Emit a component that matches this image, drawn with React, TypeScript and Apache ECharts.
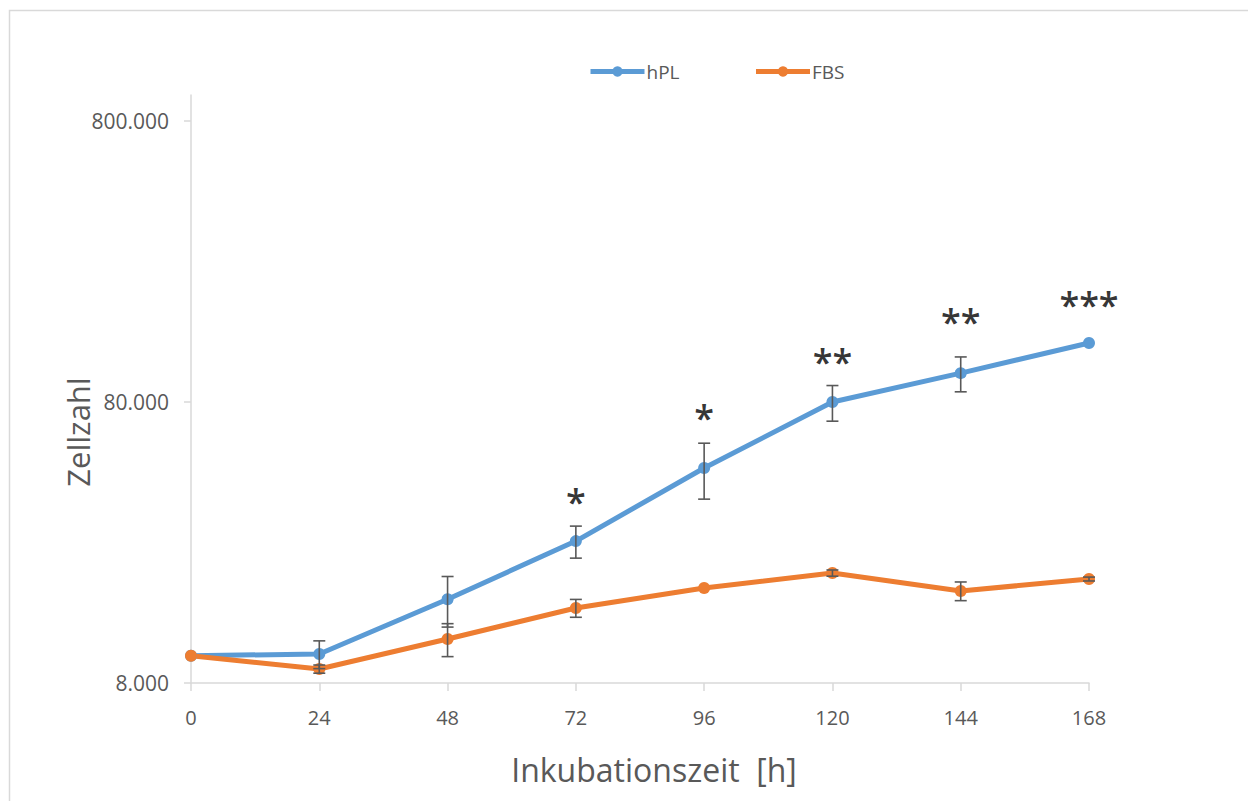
import React, { useEffect, useRef } from "react";
import * as echarts from "echarts";

const hours = [0, 24, 48, 72, 96, 120, 144, 168];
const hplValues = [10000, 10150, 15900, 25600, 46600, 80000, 101400, 129800];
const hplErrors = [0, 1150, 3250, 3340, 10500, 11600, 14400, 0];
const fbsValues = [10000, 8970, 11470, 14790, 17430, 19700, 17010, 18760];
const fbsErrors = [0, 300, 1540, 1080, 0, 500, 1300, 300];
const starHours = [72, 96, 120, 144, 168];
const starLabels = ["*", "*", "**", "**", "***"];
const starValues = [36700, 73100, 114800, 160600, 184500];
const yTickValues = [8000, 80000, 800000];
const yMin = 8000;
const yMax = 991000;

const BLUE = "#5B9BD5";
const ORANGE = "#ED7D31";
const TEXT = "#595959";
const AXIS = "#D9D9D9";
const FONT = "'Open Sans', sans-serif";

function fmtDe(v: number): string {
  const s = String(Math.round(v));
  return s.replace(/\B(?=(\d{3})+(?!\d))/g, ".");
}

function errorSeries(name: string, values: number[], errors: number[]) {
  const data = hours.map((h, i) => [h, values[i], errors[i]]);
  return {
    type: "custom",
    name: name + "-err",
    z: 5,
    silent: true,
    data: data.filter((d) => d[2] > 0),
    renderItem: (params: any, api: any) => {
      const x = api.value(0);
      const v = api.value(1);
      const e = api.value(2);
      const top = api.coord([x, v + e]);
      const bot = api.coord([x, v - e]);
      const hw = 6;
      const style = { stroke: "#595959", lineWidth: 1.6 };
      return {
        type: "group",
        children: [
          { type: "line", shape: { x1: top[0], y1: top[1], x2: bot[0], y2: bot[1] }, style },
          { type: "line", shape: { x1: top[0] - hw, y1: top[1], x2: top[0] + hw, y2: top[1] }, style },
          { type: "line", shape: { x1: bot[0] - hw, y1: bot[1], x2: bot[0] + hw, y2: bot[1] }, style },
        ],
      };
    },
  };
}

export default function App() {
  const ref = useRef<HTMLDivElement>(null);
  useEffect(() => {
    if (!ref.current) return;
    const chart = echarts.init(ref.current, null, { renderer: "svg" });
    chart.setOption({
      animation: false,
      backgroundColor: "#ffffff",
      textStyle: { fontFamily: FONT },
      graphic: [
        {
          type: "rect",
          shape: { x: 9.5, y: 10.5, width: 1400, height: 1000 },
          style: { fill: "none", stroke: AXIS, lineWidth: 1.5 },
          silent: true,
          z: -10,
        },
      ],
      legend: {
        left: 583,
        top: 57,
        itemWidth: 54,
        itemHeight: 13,
        itemGap: 74,
        data: ["hPL", "FBS"],
        lineStyle: { width: 5 },
        textStyle: { color: TEXT, fontSize: 19, fontFamily: FONT, padding: [0, 0, 0, -3] },
      },
      grid: { left: 191, right: 159, top: 95, bottom: 118, containLabel: false },
      xAxis: {
        type: "value",
        min: 0,
        max: 168,
        interval: 24,
        name: "Inkubationszeit  [h]",
        nameLocation: "middle",
        nameGap: 70,
        nameMoveOverlap: false,
        nameTextStyle: { color: TEXT, fontSize: 32, fontFamily: FONT, padding: [0, 0, 0, 28] },
        axisLine: { show: true, lineStyle: { color: AXIS, width: 1.5 } },
        axisTick: { show: true, length: 8, lineStyle: { color: AXIS, width: 1.5 } },
        axisLabel: { color: TEXT, fontSize: 20, margin: 24, fontFamily: FONT },
        splitLine: { show: false },
      },
      yAxis: {
        type: "log",
        logBase: 10,
        min: yMin,
        max: yMax,
        name: "Zellzahl",
        nameLocation: "middle",
        nameGap: 98,
        nameMoveOverlap: false,
        nameTextStyle: { color: TEXT, fontSize: 31, fontFamily: FONT, padding: [0, 86, 0, 0] },
        axisLine: { show: true, lineStyle: { color: AXIS, width: 1.5 } },
        axisTick: { show: true, length: 7, customValues: yTickValues, lineStyle: { color: AXIS, width: 1.5 } },
        axisLabel: {
          color: TEXT,
          fontSize: 21,
          margin: 22,
          fontFamily: FONT,
          customValues: yTickValues,
          formatter: (v: number) => fmtDe(v),
        },
        splitLine: { show: false },
      },
      series: [
        {
          name: "hPL",
          type: "line",
          z: 3,
          data: hours.map((h, i) => [h, hplValues[i]]),
          symbol: "circle",
          symbolSize: 12,
          itemStyle: { color: BLUE },
          lineStyle: { color: BLUE, width: 5 },
        },
        {
          name: "FBS",
          type: "line",
          z: 3,
          data: hours.map((h, i) => [h, fbsValues[i]]),
          symbol: "circle",
          symbolSize: 12,
          itemStyle: { color: ORANGE },
          lineStyle: { color: ORANGE, width: 5 },
        },
        errorSeries("hPL", hplValues, hplErrors),
        errorSeries("FBS", fbsValues, fbsErrors),
        {
          type: "scatter",
          name: "stars",
          z: 6,
          silent: true,
          symbolSize: 0,
          data: starHours.map((h, i) => ({ value: [h, starValues[i]], label: { formatter: starLabels[i] } })),
          label: {
            show: true,
            position: "inside",
            offset: [0, 4],
            color: "#000000",
            fontSize: 36,
            fontWeight: 600,
            fontFamily: FONT,
          },
        },
      ],
    });
    return () => chart.dispose();
  }, []);
  return <div ref={ref} style={{ position: "absolute", left: 0, top: 0, width: 1248, height: 801 }} />;
}
